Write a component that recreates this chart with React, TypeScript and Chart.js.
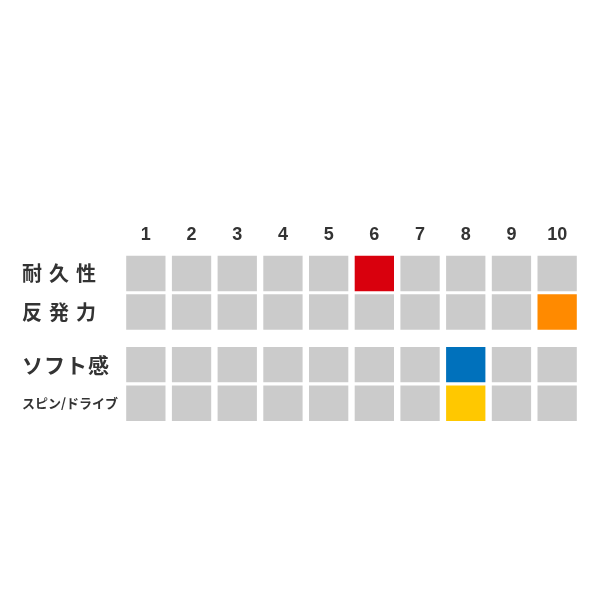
import { useEffect, useRef } from "react"
import { Chart, registerables, type ChartConfiguration, type Plugin } from "chart.js"

Chart.register(...registerables)

// column headings (1..10) and the four rated properties
const levels = ["1", "2", "3", "4", "5", "6", "7", "8", "9", "10"]
const rowLabels = ["耐久性", "反発力", "ソフト感", "スピン/ドライブ"]
const rowValues = [6, 10, 8, 8]

const rowColors = ["#d9000d", "#ff8a00", "#0071bc", "#ffc800"]
const cellGray = "#cbcbcb"
const textColor = "#333333"

// layout in pixel units of the y scale
const ROW_H = 35
const ROW_GAP = 3
const GROUP_GAP = 14
const rowTop = (i: number) => i * (ROW_H + ROW_GAP) + (i >= 2 ? GROUP_GAP : 0)

const labelFonts = [
  { size: 20, spacing: 7 },
  { size: 20, spacing: 7 },
  { size: 21, spacing: 1 },
  { size: 13, spacing: 0 },
]

const rowLabelPlugin: Plugin<"bar"> = {
  id: "rowLabels",
  afterDatasetsDraw(chart) {
    const { ctx } = chart
    const y = chart.scales.y
    ctx.save()
    ctx.fillStyle = textColor
    ctx.textAlign = "left"
    ctx.textBaseline = "middle"
    rowLabels.forEach((label, i) => {
      const f = labelFonts[i]
      ctx.font = `bold ${f.size}px "Noto Sans CJK JP", sans-serif`
      ;(ctx as any).letterSpacing = `${f.spacing}px`
      ctx.fillText(label, 22, y.getPixelForValue(rowTop(i) + ROW_H / 2))
    })
    ctx.restore()
  },
}

export default function App() {
  const chartRef = useRef<HTMLCanvasElement | null>(null)
  const chartInstanceRef = useRef<Chart | null>(null)

  useEffect(() => {
    document.body.style.margin = "0"
    if (!chartRef.current) return
    const ctx = chartRef.current.getContext("2d")
    if (!ctx) return

    if (chartInstanceRef.current) {
      chartInstanceRef.current.destroy()
    }

    const datasets = rowLabels.map((label, i) => ({
      label,
      data: levels.map(() => [rowTop(i), rowTop(i) + ROW_H] as [number, number]),
      backgroundColor: levels.map((_, c) => (c + 1 === rowValues[i] ? rowColors[i] : cellGray)),
      borderWidth: 0,
      borderSkipped: false,
      grouped: false,
      barPercentage: 0.86,
      categoryPercentage: 1,
    }))

    chartInstanceRef.current = new Chart(ctx, {
      type: "bar",
      data: { labels: levels, datasets },
      options: {
        animation: false,
        responsive: true,
        maintainAspectRatio: false,
        layout: { padding: { left: 123, right: 20, top: 222, bottom: 170 } },
        plugins: {
          legend: { display: false },
          tooltip: { enabled: false },
        },
        scales: {
          x: {
            position: "top",
            grid: { display: false, drawTicks: false },
            border: { display: false },
            ticks: {
              color: textColor,
              padding: 2,
              font: { family: '"Liberation Sans", Arial, sans-serif', size: 18, weight: "bold" },
            },
          },
          y: {
            display: false,
            reverse: true,
            min: -8,
            max: 172,
          },
        },
      },
      plugins: [rowLabelPlugin],
    } as ChartConfiguration<"bar">)

    return () => {
      if (chartInstanceRef.current) {
        chartInstanceRef.current.destroy()
        chartInstanceRef.current = null
      }
    }
  }, [])

  return (
    <div style={{ width: 600, height: 600, position: "relative" }}>
      <canvas ref={chartRef}></canvas>
    </div>
  )
}
